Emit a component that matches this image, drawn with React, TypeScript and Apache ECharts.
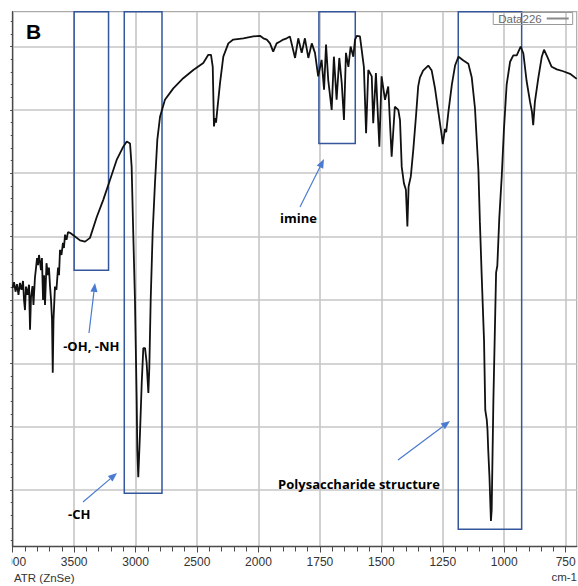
import React, { useEffect, useRef } from 'react';
import * as echarts from 'echarts';

// ---- spectrum ----
const wavenumbers = [
  4000, 3989, 3977, 3965, 3953, 3941, 3928, 3916, 3908, 3900, 3892, 3880, 3867, 3859, 3851, 3839, 3831, 3819, 3810, 3802,
  3794, 3786, 3778, 3770, 3762, 3753, 3745, 3737, 3725, 3713, 3705, 3696, 3688, 3680, 3674, 3668, 3656, 3644, 3631, 3623,
  3615, 3603, 3591, 3583, 3574, 3562, 3550, 3534,
  3493, 3452, 3411, 3371, 3316, 3263, 3209, 3154, 3100, 3072, 3045, 3032, 3019, 3005, 2991, 2986, 2978, 2964,
  2950, 2937, 2923, 2910, 2896, 2888, 2877, 2861, 2842, 2823, 2801, 2761, 2693, 2612, 2530, 2449, 2408, 2386, 2372, 2362,
  2354, 2345, 2335, 2313, 2286, 2245, 2205, 2123, 2042, 1994, 1980, 1966, 1953, 1940, 1926, 1912, 1899, 1885, 1872, 1851,
  1838, 1824, 1811, 1797, 1783, 1770, 1757, 1743, 1733, 1725, 1716, 1702, 1693, 1682, 1671, 1661, 1652, 1644, 1634, 1625,
  1614, 1607, 1600, 1587, 1580, 1571, 1562, 1553, 1539, 1533, 1522, 1508, 1499, 1485, 1472, 1458, 1445, 1431, 1424, 1417,
  1408, 1400, 1394, 1389, 1380, 1370, 1359, 1350, 1343, 1330, 1309, 1295, 1282, 1268, 1254, 1250, 1241, 1236, 1227, 1213,
  1200, 1186, 1166, 1146, 1132, 1119, 1105, 1099, 1092, 1082, 1077, 1071, 1068, 1065, 1060, 1054, 1051, 1044, 1033, 1028,
  1020, 1010, 1001, 990, 976, 963, 949, 933, 922, 909, 895, 887, 882, 875, 861, 847, 838, 825, 807, 786,
  760, 732, 705,
];
const transmittance = [
  41.9, 42.8, 41.3, 42.5, 40.8, 42.7, 41.6, 43.0, 40.0, 38.4, 42.1, 40.8, 42.4, 35.3, 40.5, 42.2, 39.2, 43.5, 45.1, 46.6,
  45.5, 47.1, 46.0, 44.7, 46.6, 40.0, 43.9, 39.2, 45.8, 43.9, 45.1, 42.1, 40.0, 36.8, 28.5, 36.8, 42.1, 41.6, 45.1, 43.9,
  47.9, 47.1, 49.0, 48.2, 50.3, 49.5, 50.7, 50.6,
  50.0, 49.4, 49.2, 49.8, 53.1, 55.8, 58.9, 62.1, 64.2, 65.0, 64.7, 61.0, 50.6, 40.0, 24.2, 16.3, 12.0, 19.0,
  26.9, 32.4, 32.4, 30.1, 25.3, 29.4, 40.0, 50.6, 58.5, 65.3, 68.9, 71.6, 73.4, 75.0, 76.3, 77.4, 78.7, 78.7, 76.8, 67.4,
  68.7, 68.0, 70.0, 74.2, 78.4, 80.5, 81.1, 81.3, 81.6, 81.7, 81.3, 81.1, 80.5, 79.2, 80.5, 80.8, 81.1, 81.3, 81.6, 78.2,
  81.3, 79.0, 81.3, 78.2, 80.5, 79.0, 75.3, 77.9, 73.2, 80.3, 74.7, 70.0, 78.4, 71.6, 78.2, 74.2, 68.4, 79.0, 76.8, 80.0,
  78.4, 81.1, 81.7, 81.6, 79.5, 76.8, 66.3, 76.3, 75.3, 67.9, 75.8, 64.2, 75.3, 71.6, 73.7, 62.6, 70.5, 70.0, 68.4, 61.0,
  58.4, 57.4, 51.6, 57.9, 59.5, 63.7, 69.0, 73.7, 75.1, 76.2, 77.0, 76.2, 73.5, 69.7, 65.9, 64.6, 67.0, 66.5, 69.7, 74.0,
  77.0, 78.4, 77.8, 77.3, 75.1, 70.3, 60.5, 52.4, 44.3, 33.5, 22.6, 21.1, 19.5, 16.3, 12.1, 5.1, 6.8, 24.2, 44.3, 45.4,
  52.9, 59.5, 67.0, 74.0, 77.6, 78.6, 78.6, 80.0, 78.9, 74.6, 71.3, 69.7, 67.6, 71.3, 75.1, 78.4, 79.5, 78.4, 76.8, 76.4,
  76.1, 75.7, 74.9,
];

// ---- axis ticks ----
const tickWavenumbers = [4000, 3500, 3000, 2500, 2000, 1750, 1500, 1250, 1000, 750];
const tickLabels = ['4000', '3500', '3000', '2500', '2000', '1750', '1500', '1250', '1000', '750'];
const gridLevels = [10, 20, 30, 40, 50, 60, 70, 80];

// ---- highlighted regions ----
const boxFrom = [3500, 3092, 1754, 1187];
const boxTo = [3220, 2785, 1606, 929];
const boxBottom = [44.7, 9.5, 64.7, 3.8];

const SERIES_NAME = 'Data226';
const X_END = 705;
const Y_MIN = 1.08;
const Y_MAX = 85.5;

// FTIR axis: the scale doubles below 2000 cm-1
const toU = (w: number) => (w >= 2000 ? (4000 - w) / 500 : 4 + (2000 - w) / 250);

function arrow(x1: number, y1: number, x2: number, y2: number, color: string) {
  const ang = Math.atan2(y2 - y1, x2 - x1);
  const L = 9;
  const W = 3.6;
  const bx = x2 - L * Math.cos(ang);
  const by = y2 - L * Math.sin(ang);
  const nx = -Math.sin(ang);
  const ny = Math.cos(ang);
  return [
    { type: 'line', z: 20, shape: { x1, y1, x2: bx, y2: by }, style: { stroke: color, lineWidth: 1.2 } },
    {
      type: 'polygon', z: 20,
      shape: { points: [[x2, y2], [bx + W * nx, by + W * ny], [bx - W * nx, by - W * ny]] },
      style: { fill: color },
    },
  ];
}

function label(text: string, x: number, y: number, font: string, fill: string, align = 'center') {
  return {
    type: 'text', z: 20, x, y,
    style: { text, font, fill, align, textAlign: align, verticalAlign: 'middle', textVerticalAlign: 'middle' },
  };
}

export default function App() {
  const ref = useRef<HTMLDivElement>(null);

  useEffect(() => {
    if (!ref.current) return;
    const chart = echarts.init(ref.current, null, { renderer: 'svg' });
    const n = Math.min(wavenumbers.length, transmittance.length);
    const data = [] as number[][];
    for (let i = 0; i < n; i++) data.push([toU(wavenumbers[i]), transmittance[i]]);

    const majorU = tickWavenumbers.map(toU);
    const minorU: number[] = [];
    for (let w = 4000; w > 2000; w -= 100) minorU.push(toU(w));
    for (let w = 2000; w >= 750; w -= 50) minorU.push(toU(w));
    const minorT: number[] = [];
    for (let t = 2; t < Y_MAX; t += 2) minorT.push(t);

    const axisColor = '#4a4a4a';
    const gridColor = '#c6c6c6';
    const arrowColor = '#4a7bd0';
    const boxColor = '#34569c';
    const annFont = 'bold 13px "Open Sans"';

    const option: any = {
      animation: false,
      backgroundColor: '#fff',
      grid: {
        left: 12.7, right: 1.3, top: 11.7, bottom: 39.5,
        show: true, borderColor: '#aaaaaa', borderWidth: 1.2,
        containLabel: false, outerBoundsMode: 'none',
      },
      legend: {
        data: [SERIES_NAME],
        top: 12.5, right: 5.3,
        align: 'right',
        icon: 'rect',
        itemWidth: 22, itemHeight: 2,
        padding: [0, 4, 0, 5],
        borderColor: '#999', borderWidth: 1,
        itemStyle: { color: '#8a8a8a', borderWidth: 0 },
        textStyle: { color: '#6a6a6a', fontSize: 11.5, lineHeight: 11, fontFamily: 'Liberation Sans' },
      },
      xAxis: [
        {
          type: 'value', min: 0, max: toU(X_END), position: 'bottom',
          axisLine: { show: true, onZero: false, lineStyle: { color: axisColor, width: 1.3 } },
          axisTick: { show: true, customValues: majorU, length: 6, lineStyle: { color: axisColor, width: 1 } },
          axisLabel: {
            customValues: majorU, margin: 9, color: '#333', fontSize: 12, fontFamily: 'Liberation Sans',
            formatter: (v: number) => {
              const i = majorU.findIndex((u) => Math.abs(u - v) < 1e-6);
              return i >= 0 ? tickLabels[i] : '';
            },
          },
          splitLine: { show: true, lineStyle: { color: gridColor, width: 1.6 } },
        },
        {
          type: 'value', min: 0, max: toU(X_END), position: 'bottom',
          axisLine: { show: false },
          axisTick: { show: true, customValues: minorU, length: 5, lineStyle: { color: axisColor, width: 1 } },
          axisLabel: { show: false },
          splitLine: { show: false },
        },
      ],
      yAxis: [
        {
          type: 'value', min: Y_MIN, max: Y_MAX, position: 'left',
          axisLine: { show: true, lineStyle: { color: axisColor, width: 1.3 } },
          axisTick: { show: true, customValues: gridLevels, length: 2.5, lineStyle: { color: axisColor } },
          axisLabel: { show: false },
          splitLine: { show: true, lineStyle: { color: gridColor, width: 1.6 } },
        },
        {
          type: 'value', min: Y_MIN, max: Y_MAX, position: 'left',
          axisLine: { show: false },
          axisTick: { show: true, customValues: minorT, length: 2, lineStyle: { color: axisColor } },
          axisLabel: { show: false },
          splitLine: { show: false },
        },
      ],
      series: [
        {
          name: SERIES_NAME,
          type: 'line',
          xAxisIndex: 0, yAxisIndex: 0,
          data,
          symbol: 'none',
          lineStyle: { color: '#111', width: 1.8 },
          itemStyle: { color: '#111' },
          z: 5,
          markArea: {
            silent: true,
            itemStyle: { color: 'rgba(0,0,0,0)', borderColor: boxColor, borderWidth: 1.5 },
            data: boxFrom.map((w, i) => [
              { xAxis: toU(w), yAxis: Y_MAX },
              { xAxis: toU(boxTo[i]), yAxis: boxBottom[i] },
            ]),
          },
        },
      ],
      graphic: [
        // clip the left half of the first tick label, as in the original crop
        { type: 'rect', z: 50, shape: { x: 0, y: 552, width: 11.8, height: 20 }, style: { fill: '#fff' } },
        label('B', 26, 31.5, 'bold 21px "Liberation Sans"', '#000', 'left'),
        label('ATR (ZnSe)', 14, 578, '11.5px "Liberation Sans"', '#333', 'left'),
        label('cm-1', 577, 577, '11.5px "Liberation Sans"', '#333', 'right'),
        label('-OH, -NH', 91.3, 346, annFont, '#000'),
        label('-CH', 79.3, 514, annFont, '#000'),
        label('imine', 298.5, 218, annFont, '#000'),
        label('Polysaccharide structure', 359, 484, annFont, '#000'),
        ...arrow(89, 333, 95, 283, arrowColor),
        ...arrow(83, 502, 117, 473, arrowColor),
        ...arrow(300, 207, 324, 159, arrowColor),
        ...arrow(398, 460, 450, 421, arrowColor),
      ],
    };

    chart.setOption(option);
    return () => chart.dispose();
  }, []);

  return (
    <div
      ref={ref}
      style={{ position: 'fixed', left: 0, top: 0, width: 578, height: 586, background: '#fff' }}
    />
  );
}
